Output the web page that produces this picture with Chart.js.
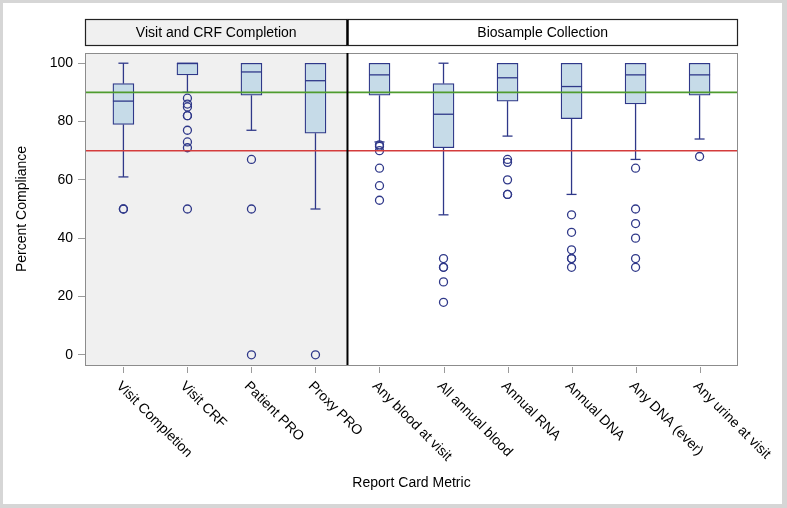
<!DOCTYPE html>
<html>
<head>
<meta charset="utf-8">
<script src="https://cdn.jsdelivr.net/npm/chart.js@4.4.1/dist/chart.umd.min.js"></script>
<style>
  html, body { margin: 0; padding: 0; background: #fff; }
  canvas { display: block; }
</style>
</head>
<body>
<canvas id="chart" width="787" height="508"></canvas>
<script>
// Report card metrics
const categories = ['Visit Completion', 'Visit CRF', 'Patient PRO', 'Proxy PRO', 'Any blood at visit',
  'All annual blood', 'Annual RNA', 'Annual DNA', 'Any DNA (ever)', 'Any urine at visit'];
const panels = ['Visit and CRF Completion', 'Biosample Collection'];
const panelSplit = 4; // first 4 categories belong to panel 1

const whiskerLow  = [61, 90, 77, 50, 73, 48, 75, 55, 67, 74];
const q1          = [79, 96, 89, 76, 89, 71, 87, 81, 86, 89];
const median      = [87, 100, 97, 94, 96, 82.5, 95, 92, 96, 96];
const q3          = [93, 100, 100, 100, 100, 93, 100, 100, 100, 100];
const whiskerHigh = [100, 100, 100, 100, 100, 100, 100, 100, 100, 100];
const outliers = [
  [50, 50],
  [88, 86, 85, 82, 82, 77, 73, 71, 50],
  [67, 50, 0],
  [0],
  [72, 71.5, 70, 64, 58, 53],
  [33, 30, 30, 25, 18],
  [67, 66, 60, 55, 55],
  [48, 42, 36, 33, 33, 30],
  [64, 50, 45, 40, 33, 30],
  [68]
];
const yTicks = [0, 20, 40, 60, 80, 100];
const targetLine = 90;
const minimumLine = 70;

const NAVY = '#2f3889';
const FONT = 'Liberation Sans, Arial, sans-serif';

const boxData = categories.map((c, i) => ({ x: i, y: [q1[i], q3[i]] }));
const outlierData = [];
outliers.forEach((arr, i) => arr.forEach(v => outlierData.push({ x: i, y: v })));

const decor = {
  id: 'decor',
  beforeDraw(chart) {
    const { ctx, width, height } = chart;
    ctx.save();
    ctx.fillStyle = '#d6d6d6';
    ctx.fillRect(0, 0, width, height);
    ctx.fillStyle = '#fff';
    ctx.fillRect(3, 3, 779, 501);
    ctx.restore();
  },
  beforeDatasetsDraw(chart) {
    const { ctx, chartArea: a, scales: { x } } = chart;
    const split = x.getPixelForValue(panelSplit - 0.5);
    ctx.save();
    ctx.fillStyle = '#f0f0f0';
    ctx.fillRect(a.left, a.top, split - a.left, a.bottom - a.top);
    ctx.restore();
  },
  afterDatasetsDraw(chart) {
    const { ctx, chartArea: a, scales: { x, y } } = chart;
    ctx.save();
    // whiskers and medians
    ctx.strokeStyle = NAVY;
    ctx.lineWidth = 1.3;
    categories.forEach((c, i) => {
      const px = x.getPixelForValue(i);
      const seg = (x1, y1, x2, y2) => { ctx.beginPath(); ctx.moveTo(x1, y1); ctx.lineTo(x2, y2); ctx.stroke(); };
      if (whiskerHigh[i] > q3[i]) {
        seg(px, y.getPixelForValue(q3[i]), px, y.getPixelForValue(whiskerHigh[i]));
        seg(px - 5, y.getPixelForValue(whiskerHigh[i]), px + 5, y.getPixelForValue(whiskerHigh[i]));
      }
      if (whiskerLow[i] < q1[i]) {
        seg(px, y.getPixelForValue(q1[i]), px, y.getPixelForValue(whiskerLow[i]));
        seg(px - 5, y.getPixelForValue(whiskerLow[i]), px + 5, y.getPixelForValue(whiskerLow[i]));
      }
      seg(px - 10.5, y.getPixelForValue(median[i]), px + 10.5, y.getPixelForValue(median[i]));
    });
    // reference lines
    ctx.lineWidth = 1.6;
    ctx.strokeStyle = '#4f9c2f';
    ctx.beginPath();
    ctx.moveTo(a.left, y.getPixelForValue(targetLine));
    ctx.lineTo(a.right, y.getPixelForValue(targetLine));
    ctx.stroke();
    ctx.strokeStyle = '#d43c3c';
    ctx.beginPath();
    ctx.moveTo(a.left, y.getPixelForValue(minimumLine));
    ctx.lineTo(a.right, y.getPixelForValue(minimumLine));
    ctx.stroke();
    ctx.restore();
  },
  afterDraw(chart) {
    const { ctx, chartArea: a, scales: { x } } = chart;
    const split = x.getPixelForValue(panelSplit - 0.5);
    ctx.save();
    // plot frame
    ctx.strokeStyle = '#8c8c8c';
    ctx.lineWidth = 1;
    ctx.strokeRect(a.left + 0.5, a.top + 0.5, a.right - a.left - 1, a.bottom - a.top);
    ctx.strokeStyle = '#000';
    ctx.lineWidth = 2;
    ctx.beginPath();
    ctx.moveTo(split, a.top);
    ctx.lineTo(split, a.bottom);
    ctx.stroke();

    // panel headers
    const hTop = 19.5, hBot = 45.5;
    const boxes = [[a.left, split, '#f0f0f0'], [split, a.right, '#fff']];
    boxes.forEach((b, k) => {
      ctx.fillStyle = b[2];
      ctx.fillRect(b[0], hTop, b[1] - b[0], hBot - hTop);
      ctx.strokeStyle = '#222';
      ctx.lineWidth = 1.2;
      ctx.strokeRect(b[0] + 0.5, hTop, b[1] - b[0] - 1, hBot - hTop);
      ctx.fillStyle = '#000';
      ctx.font = '14px ' + FONT;
      ctx.textAlign = 'center';
      ctx.textBaseline = 'middle';
      ctx.fillText(panels[k], (b[0] + b[1]) / 2, (hTop + hBot) / 2 + 1);
    });
    ctx.strokeStyle = '#000';
    ctx.lineWidth = 2;
    ctx.beginPath();
    ctx.moveTo(split, hTop);
    ctx.lineTo(split, hBot);
    ctx.stroke();

    // x ticks and rotated labels
    ctx.strokeStyle = '#9a9a9a';
    ctx.lineWidth = 1;
    ctx.fillStyle = '#000';
    ctx.font = '14px ' + FONT;
    ctx.textAlign = 'left';
    ctx.textBaseline = 'middle';
    categories.forEach((c, i) => {
      const px = Math.round(x.getPixelForValue(i)) + 0.5;
      ctx.beginPath();
      ctx.moveTo(px, a.bottom + 2);
      ctx.lineTo(px, a.bottom + 8);
      ctx.stroke();
      ctx.save();
      ctx.translate(px - 5, a.bottom + 19);
      ctx.rotate(Math.PI / 4);
      ctx.fillText(c, 0, 0);
      ctx.restore();
    });

    // x title
    ctx.textAlign = 'center';
    ctx.textBaseline = 'middle';
    ctx.fillText('Report Card Metric', (a.left + a.right) / 2, 483);
    ctx.restore();
  }
};

new Chart(document.getElementById('chart'), {
  type: 'bar',
  data: {
    datasets: [
      {
        type: 'bar',
        data: boxData,
        backgroundColor: '#c6dbe8',
        borderColor: NAVY,
        borderWidth: 1.3,
        borderSkipped: false,
        barThickness: 21,
        order: 2
      },
      {
        type: 'scatter',
        data: outlierData,
        pointStyle: 'circle',
        pointRadius: 4,
        backgroundColor: 'rgba(0,0,0,0)',
        borderColor: NAVY,
        borderWidth: 1.3,
        order: 1
      }
    ]
  },
  plugins: [decor],
  options: {
    responsive: false,
    devicePixelRatio: 1,
    animation: false,
    layout: { padding: { top: 53, right: 49, bottom: 143, left: 0 } },
    plugins: { legend: { display: false }, tooltip: { enabled: false } },
    scales: {
      x: { type: 'linear', display: false, min: -0.6, max: 9.6, offset: false },
      y: {
        min: -3.5, max: 103.5,
        afterBuildTicks(scale) { scale.ticks = yTicks.map(v => ({ value: v })); },
        afterFit(scale) { scale.width = 85; },
        border: { display: false },
        grid: { drawOnChartArea: false, tickLength: 7, color: '#9a9a9a' },
        ticks: { color: '#000', font: { family: FONT, size: 14 }, padding: 5 },
        title: {
          display: true, text: 'Percent Compliance', color: '#000',
          font: { family: FONT, size: 14 }, padding: { top: 14, bottom: 0 }
        }
      }
    }
  }
});
</script>
</body>
</html>
